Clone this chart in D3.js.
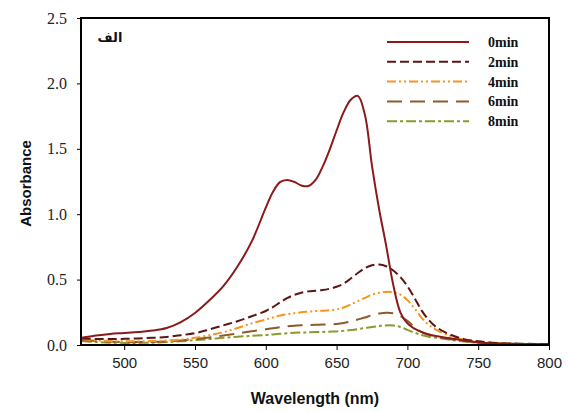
<!DOCTYPE html>
<html>
<head>
<meta charset="utf-8">
<script src="https://cdn.jsdelivr.net/npm/d3@7"></script>
<style>
  html, body { margin: 0; padding: 0; background: #fff; }
  svg { display: block; }
</style>
</head>
<body>
<svg id="chart" width="569" height="412"></svg>
<script>
// Absorption spectra sampled on a common wavelength grid (nm)
const wavelengths = [
  470, 480, 490, 500, 510, 520, 530, 540, 550, 560, 570, 580, 590,
  600, 605, 610, 615, 620, 625, 630, 635, 640, 645, 650, 655, 660, 665,
  670, 675, 680, 685, 690, 695, 700, 705, 710, 715, 720,
  730, 740, 750, 760, 770, 780, 790, 800
];

const abs0min = [
  0.055, 0.072, 0.085, 0.092, 0.100, 0.110, 0.130, 0.175, 0.245, 0.340, 0.450, 0.600, 0.790,
  1.050, 1.170, 1.245, 1.262, 1.248, 1.220, 1.215, 1.260, 1.360, 1.490, 1.640, 1.780, 1.875, 1.905,
  1.760, 1.370, 1.040, 0.760, 0.460, 0.250, 0.165, 0.125, 0.098, 0.080, 0.068,
  0.052, 0.035, 0.020, 0.012, 0.010, 0.008, 0.006, 0.005
];

const abs2min = [
  0.050, 0.046, 0.045, 0.047, 0.050, 0.055, 0.062, 0.075, 0.090, 0.118, 0.150, 0.182, 0.220,
  0.260, 0.290, 0.325, 0.358, 0.383, 0.400, 0.410, 0.415, 0.420, 0.430, 0.445, 0.470, 0.508, 0.550,
  0.588, 0.610, 0.615, 0.602, 0.570, 0.520, 0.450, 0.360, 0.265, 0.192, 0.140,
  0.080, 0.045, 0.028, 0.018, 0.012, 0.010, 0.008, 0.006
];

const abs4min = [
  0.045, 0.035, 0.030, 0.028, 0.028, 0.030, 0.035, 0.042, 0.055, 0.075, 0.097, 0.130, 0.165,
  0.195, 0.210, 0.225, 0.235, 0.243, 0.250, 0.255, 0.260, 0.262, 0.265, 0.272, 0.287, 0.310, 0.335,
  0.360, 0.385, 0.400, 0.406, 0.403, 0.385, 0.343, 0.280, 0.208, 0.155, 0.118,
  0.070, 0.040, 0.025, 0.015, 0.010, 0.008, 0.006, 0.005
];

const abs6min = [
  0.040, 0.030, 0.025, 0.022, 0.022, 0.024, 0.028, 0.035, 0.045, 0.058, 0.072, 0.088, 0.105,
  0.120, 0.128, 0.136, 0.143, 0.148, 0.151, 0.153, 0.155, 0.156, 0.158, 0.161, 0.168, 0.180, 0.195,
  0.210, 0.228, 0.240, 0.247, 0.243, 0.222, 0.185, 0.138, 0.100, 0.080, 0.066,
  0.045, 0.030, 0.020, 0.014, 0.010, 0.008, 0.006, 0.005
];

const abs8min = [
  0.030, 0.022, 0.018, 0.016, 0.016, 0.018, 0.022, 0.028, 0.037, 0.045, 0.055, 0.063, 0.070,
  0.076, 0.081, 0.086, 0.090, 0.093, 0.095, 0.097, 0.099, 0.100, 0.102, 0.104, 0.108, 0.114, 0.122,
  0.130, 0.138, 0.145, 0.150, 0.149, 0.138, 0.116, 0.095, 0.077, 0.063, 0.055,
  0.040, 0.027, 0.018, 0.012, 0.009, 0.007, 0.006, 0.005
];

const seriesNames = ["0min", "2min", "4min", "6min", "8min"];
const seriesValues = [abs0min, abs2min, abs4min, abs6min, abs8min];

const xTicks = [500, 550, 600, 650, 700, 750, 800];
const yTicks = [0.0, 0.5, 1.0, 1.5, 2.0, 2.5];

// Line styles per series
const styles = [
  { color: "#8b1a1a", dash: null },
  { color: "#5e1414", dash: "9,4" },
  { color: "#f7941d", dash: "9,3,2,3,2,3" },
  { color: "#8c5a2b", dash: "15,8" },
  { color: "#8d9a2b", dash: "10,3,3,3" }
];

const svg = d3.select("#chart");
const plotLeft = 81, plotRight = 549, plotTop = 18, plotBottom = 345;

const x = d3.scaleLinear().domain([469.5, 800]).range([plotLeft, plotRight]);
const y = d3.scaleLinear().domain([0, 2.5]).range([plotBottom, plotTop]);

svg.append("defs").append("clipPath").attr("id", "plotClip")
  .append("rect").attr("x", plotLeft).attr("y", plotTop)
  .attr("width", plotRight - plotLeft).attr("height", plotBottom - plotTop);

// Spectra
const line = d3.line()
  .x(d => x(d[0]))
  .y(d => y(d[1]))
  .curve(d3.curveCatmullRom.alpha(0.5));

const plot = svg.append("g").attr("clip-path", "url(#plotClip)");
// draw later series first so 0min sits on top
for (let i = seriesValues.length - 1; i >= 0; i--) {
  const pts = wavelengths.map((w, j) => [w, seriesValues[i][j]]);
  plot.append("path")
    .datum(pts)
    .attr("d", line)
    .attr("fill", "none")
    .attr("stroke", styles[i].color)
    .attr("stroke-width", 2)
    .attr("stroke-dasharray", styles[i].dash)
    .attr("stroke-linejoin", "round");
}

// Axes
const xAxis = d3.axisBottom(x).tickValues(xTicks).tickSize(5).tickPadding(7).tickFormat(d3.format("d"));
const yAxis = d3.axisLeft(y).tickValues(yTicks).tickSize(4).tickPadding(10).tickFormat(d3.format(".1f"));

const gx = svg.append("g").attr("transform", `translate(0,${plotBottom})`).call(xAxis);
gx.select(".domain").remove();
gx.selectAll("line").attr("stroke", "#000").attr("stroke-width", 1);
gx.selectAll("text")
  .attr("font-family", "'Liberation Sans', Arial, sans-serif")
  .attr("font-size", 15)
  .attr("fill", "#222");

const gy = svg.append("g").attr("transform", `translate(${plotLeft},0)`).call(yAxis);
gy.select(".domain").remove();
gy.selectAll("line").attr("stroke", "#000").attr("stroke-width", 1);
gy.selectAll("text")
  .attr("font-family", "'Liberation Serif', 'Times New Roman', serif")
  .attr("font-size", 16)
  .attr("fill", "#222");

// Frame
svg.append("rect")
  .attr("x", plotLeft).attr("y", plotTop)
  .attr("width", plotRight - plotLeft).attr("height", plotBottom - plotTop)
  .attr("fill", "none").attr("stroke", "#000").attr("stroke-width", 2);

// Axis titles
svg.append("text")
  .attr("x", (plotLeft + plotRight) / 2).attr("y", 404)
  .attr("text-anchor", "middle")
  .attr("font-family", "'Liberation Sans', Arial, sans-serif")
  .attr("font-weight", "bold").attr("font-size", 16)
  .attr("fill", "#111")
  .text("Wavelength (nm)");

svg.append("text")
  .attr("transform", `translate(31,${(plotTop + plotBottom) / 2 + 2}) rotate(-90)`)
  .attr("text-anchor", "middle")
  .attr("font-family", "'Liberation Sans', Arial, sans-serif")
  .attr("font-weight", "bold").attr("font-size", 15)
  .attr("fill", "#111")
  .text("Absorbance");

// Panel label
svg.append("text")
  .attr("x", 110).attr("y", 42)
  .attr("text-anchor", "middle")
  .attr("font-family", "'DejaVu Sans', 'Noto Sans', sans-serif")
  .attr("font-weight", "bold").attr("font-size", 13)
  .attr("fill", "#111")
  .text("الف");

// Legend
const legend = svg.append("g");
seriesNames.forEach((name, i) => {
  const ly = 42 + i * 19.8;
  legend.append("line")
    .attr("x1", 387).attr("x2", 469)
    .attr("y1", ly).attr("y2", ly)
    .attr("stroke", styles[i].color)
    .attr("stroke-width", 2)
    .attr("stroke-dasharray", styles[i].dash);
  legend.append("text")
    .attr("x", 488).attr("y", ly + 5)
    .attr("font-family", "'Liberation Serif', 'Times New Roman', serif")
    .attr("font-weight", "bold").attr("font-size", 14)
    .attr("fill", "#111")
    .text(name);
});
</script>
</body>
</html>
